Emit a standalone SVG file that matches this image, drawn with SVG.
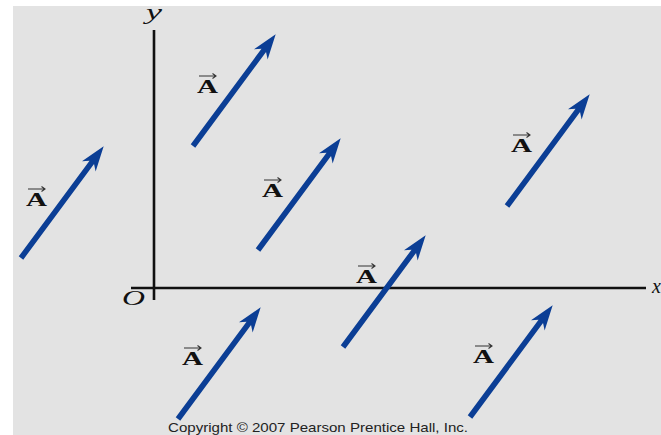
<svg xmlns="http://www.w3.org/2000/svg" xmlns:xlink="http://www.w3.org/1999/xlink" width="661" height="435" viewBox="0 0 661 435">
  <style>
    .bg { fill: #e3e3e3; }
    .axis { stroke: #111; stroke-width: 2.6; fill: none; }
    .vec { fill: #0b3e95; }
    .lbl { font-family: "Liberation Serif", "Times New Roman", serif; font-weight: bold; font-size: 18px; fill: #111; }
    .ax { font-family: "Liberation Serif", "Times New Roman", serif; font-style: italic; font-size: 20px; fill: #111; }
    .over { stroke: #333; stroke-width: 1.1; fill: none; }
    .copy { font-family: "Liberation Sans", Arial, sans-serif; font-size: 13.5px; fill: #222; }
  </style>
  <defs>
    <path id="vecShape" d="M0,-2.8 L119,-2.8 L114,-8.5 L139,0 L114,8.5 L119,2.8 L0,2.8 Z"/>
    <path id="overArrow" d="M2,-17 L19,-17 M15.5,-19.5 L19,-17 L15.5,-14.5"/>
  </defs>

  <rect class="bg" x="13" y="6" width="648" height="429"/>

  <g id="axes">
    <line class="axis" x1="154" y1="30" x2="154" y2="300"/>
    <line class="axis" x1="131" y1="288" x2="646" y2="288"/>
    <text class="ax" x="146" y="19" textLength="16" lengthAdjust="spacingAndGlyphs">y</text>
    <text class="ax" x="652" y="293">x</text>
    <text class="ax" x="122" y="305" font-size="18" textLength="23" lengthAdjust="spacingAndGlyphs">O</text>
  </g>

  <g id="connectors">
    <use class="vec" xlink:href="#vecShape" transform="translate(21,258) rotate(-53.5)"/>
    <use class="vec" xlink:href="#vecShape" transform="translate(193,146) rotate(-53.5)"/>
    <use class="vec" xlink:href="#vecShape" transform="translate(258,250) rotate(-53.5)"/>
    <use class="vec" xlink:href="#vecShape" transform="translate(507,206) rotate(-53.5)"/>
    <use class="vec" xlink:href="#vecShape" transform="translate(343,347) rotate(-53.5)"/>
    <use class="vec" xlink:href="#vecShape" transform="translate(178,419) rotate(-53.5)"/>
    <use class="vec" xlink:href="#vecShape" transform="translate(470,417) rotate(-53.5)"/>
  </g>

  <g id="label-1" transform="translate(26,206)">
    <use class="over" xlink:href="#overArrow"/>
    <text class="lbl" x="0" y="0" textLength="21" lengthAdjust="spacingAndGlyphs">A</text>
  </g>
  <g id="label-2" transform="translate(197,93)">
    <use class="over" xlink:href="#overArrow"/>
    <text class="lbl" x="0" y="0" textLength="21" lengthAdjust="spacingAndGlyphs">A</text>
  </g>
  <g id="label-3" transform="translate(262,197)">
    <use class="over" xlink:href="#overArrow"/>
    <text class="lbl" x="0" y="0" textLength="21" lengthAdjust="spacingAndGlyphs">A</text>
  </g>
  <g id="label-4" transform="translate(511,152)">
    <use class="over" xlink:href="#overArrow"/>
    <text class="lbl" x="0" y="0" textLength="21" lengthAdjust="spacingAndGlyphs">A</text>
  </g>
  <g id="label-5" transform="translate(356,283)">
    <use class="over" xlink:href="#overArrow"/>
    <text class="lbl" x="0" y="0" textLength="21" lengthAdjust="spacingAndGlyphs">A</text>
  </g>
  <g id="label-6" transform="translate(182,365)">
    <use class="over" xlink:href="#overArrow"/>
    <text class="lbl" x="0" y="0" textLength="21" lengthAdjust="spacingAndGlyphs">A</text>
  </g>
  <g id="label-7" transform="translate(473,363)">
    <use class="over" xlink:href="#overArrow"/>
    <text class="lbl" x="0" y="0" textLength="21" lengthAdjust="spacingAndGlyphs">A</text>
  </g>

  <text class="copy" x="168" y="431.5" textLength="300" lengthAdjust="spacingAndGlyphs">Copyright © 2007 Pearson Prentice Hall, Inc.</text>
</svg>
